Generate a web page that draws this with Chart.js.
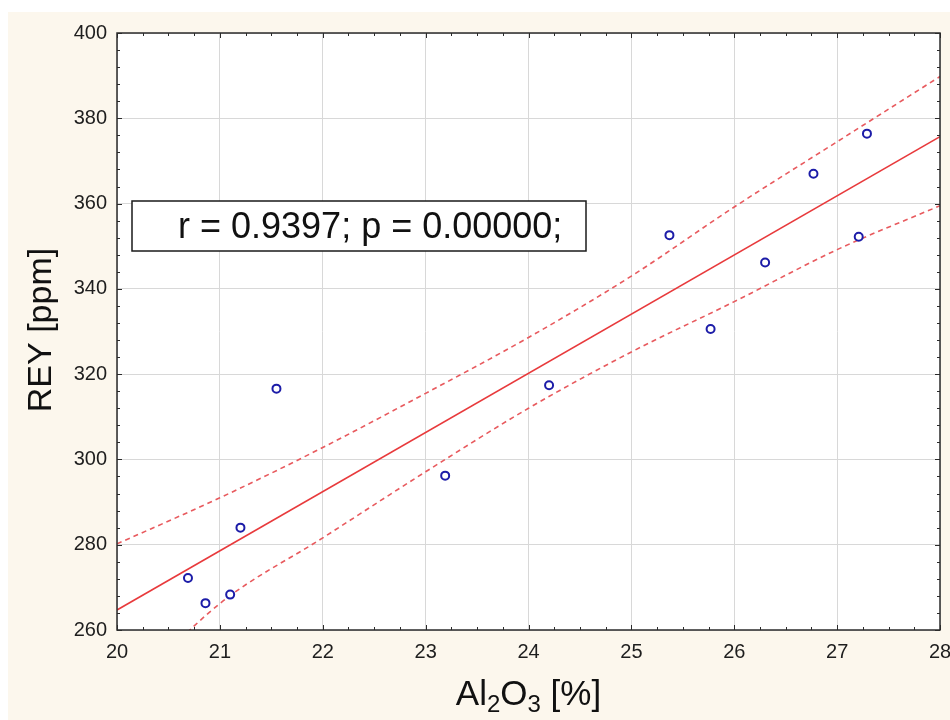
<!DOCTYPE html>
<html>
<head>
<meta charset="utf-8">
<script src="https://cdn.jsdelivr.net/npm/chart.js@4"></script>
<style>
  html, body { margin: 0; padding: 0; background: #ffffff; }
  canvas { display: block; }
</style>
</head>
<body>
<canvas id="scatterChart" width="950" height="720"></canvas>
<script>
// samples: Al2O3 [%] vs REY [ppm]
const alumina = [20.69, 20.86, 21.10, 21.20, 21.55, 23.19, 24.20, 25.37, 25.77, 26.30, 26.77, 27.21, 27.29];
const rey = [272.2, 266.3, 268.3, 284.0, 316.6, 296.2, 317.4, 352.6, 330.6, 346.2, 367.0, 352.2, 376.4];

// fitted line and 95% band
const fitX = [20, 28];
const fitY = [264.7, 375.7];
const bandX = [20, 21, 22, 23, 24, 25, 26, 27, 28];
const upperBand = [280.2, 291.0, 302.8, 315.5, 328.6, 343.0, 359.2, 374.5, 389.8];
const lowerBand = [243.0, 266.2, 281.6, 297.1, 312.0, 325.2, 337.0, 349.2, 359.5];

// axes
const xRange = [20, 28];
const xStep = 1;
const yRange = [260, 400];
const yStep = 20;

const statText = "r = 0.9397; p = 0.00000;";
const yTitle = "REY [ppm]";

const fontFamily = "'Liberation Sans', Arial, sans-serif";

let toPoints = (xs, ys) => xs.map((x, i) => ({ x: x, y: ys[i] }));

// background, frame, inner ticks, titles, stats box
const decorPlugin = {
  id: "decor",
  beforeDraw: function (chart) {
    let ctx = chart.ctx;
    let a = chart.chartArea;
    ctx.save();
    ctx.fillStyle = "#ffffff";
    ctx.fillRect(0, 0, chart.width, chart.height);
    ctx.fillStyle = "#fcf7ed";
    ctx.fillRect(8, 12, chart.width - 8, chart.height - 12);
    ctx.fillStyle = "#ffffff";
    ctx.fillRect(a.left, a.top, a.right - a.left, a.bottom - a.top);
    ctx.restore();
  },
  afterDraw: function (chart) {
    let ctx = chart.ctx;
    let a = chart.chartArea;
    let xs = chart.scales.x;
    let ys = chart.scales.y;
    ctx.save();

    //frame
    ctx.strokeStyle = "#2b2b2b";
    ctx.lineWidth = 1.5;
    ctx.strokeRect(a.left, a.top, a.right - a.left, a.bottom - a.top);

    //inward ticks on all sides
    ctx.lineWidth = 1;
    ctx.beginPath();
    for (let v = xRange[0]; v <= xRange[1] + 1e-9; v += 0.25) {
      let px = Math.round(xs.getPixelForValue(v)) + 0.5;
      let len = Math.abs(v - Math.round(v)) < 1e-6 ? 5 : 3;
      ctx.moveTo(px, a.bottom);
      ctx.lineTo(px, a.bottom - len);
      ctx.moveTo(px, a.top);
      ctx.lineTo(px, a.top + len);
    }
    for (let v = yRange[0]; v <= yRange[1] + 1e-9; v += 4) {
      let py = Math.round(ys.getPixelForValue(v)) + 0.5;
      let len = (v - yRange[0]) % yStep === 0 ? 5 : 3;
      ctx.moveTo(a.left, py);
      ctx.lineTo(a.left + len, py);
      ctx.moveTo(a.right, py);
      ctx.lineTo(a.right - len, py);
    }
    ctx.stroke();

    //stats box
    ctx.fillStyle = "#ffffff";
    ctx.fillRect(132, 201, 454, 50);
    ctx.strokeStyle = "#1a1a1a";
    ctx.lineWidth = 1.5;
    ctx.strokeRect(132, 201, 454, 50);
    ctx.fillStyle = "#111111";
    ctx.font = "36px " + fontFamily;
    ctx.textAlign = "left";
    ctx.textBaseline = "alphabetic";
    ctx.fillText(statText, 178, 238);

    //y title
    ctx.save();
    ctx.translate(51, 330);
    ctx.rotate(-Math.PI / 2);
    ctx.font = "34px " + fontFamily;
    ctx.textAlign = "center";
    ctx.fillStyle = "#111111";
    ctx.fillText(yTitle, 0, 0);
    ctx.restore();

    //x title with subscripts
    let parts = [["Al", false], ["2", true], ["O", false], ["3", true], [" [%]", false]];
    let bigFont = "35px " + fontFamily;
    let smallFont = "24px " + fontFamily;
    let total = 0;
    parts.forEach(p => {
      ctx.font = p[1] ? smallFont : bigFont;
      total += ctx.measureText(p[0]).width;
    });
    let cx = (a.left + a.right) / 2 - total / 2;
    ctx.textAlign = "left";
    ctx.fillStyle = "#111111";
    parts.forEach(p => {
      ctx.font = p[1] ? smallFont : bigFont;
      ctx.fillText(p[0], cx, p[1] ? 712 : 705);
      cx += ctx.measureText(p[0]).width;
    });

    ctx.restore();
  }
};

let chartCtx = document.getElementById("scatterChart").getContext("2d");
new Chart(chartCtx, {
  type: "scatter",
  data: {
    datasets: [
      {
        label: "samples",
        data: toPoints(alumina, rey),
        showLine: false,
        pointRadius: 4,
        pointBorderWidth: 2,
        pointBorderColor: "#1c1ca8",
        pointBackgroundColor: "#ffffff"
      },
      {
        label: "fit",
        data: toPoints(fitX, fitY),
        showLine: true,
        pointRadius: 0,
        borderColor: "#e83a3c",
        borderWidth: 1.6
      },
      {
        label: "upper",
        data: toPoints(bandX, upperBand),
        showLine: true,
        pointRadius: 0,
        borderColor: "#e85a5e",
        borderWidth: 1.6,
        borderDash: [5, 4],
        cubicInterpolationMode: "monotone"
      },
      {
        label: "lower",
        data: toPoints(bandX, lowerBand),
        showLine: true,
        pointRadius: 0,
        borderColor: "#e85a5e",
        borderWidth: 1.6,
        borderDash: [5, 4],
        cubicInterpolationMode: "monotone"
      }
    ]
  },
  options: {
    responsive: false,
    animation: false,
    events: [],
    layout: {
      padding: { left: 0, top: 33, right: 10, bottom: 0 }
    },
    plugins: {
      legend: { display: false },
      tooltip: { enabled: false }
    },
    scales: {
      x: {
        type: "linear",
        min: xRange[0],
        max: xRange[1],
        afterFit: function (scale) {
          scale.height = 90;
          scale.paddingLeft = 0;
          scale.paddingRight = 0;
        },
        ticks: {
          stepSize: xStep,
          padding: 10,
          color: "#1e1e1e",
          font: { family: fontFamily, size: 20 }
        },
        grid: { color: "#d8d8d8", lineWidth: 1, drawTicks: false },
        border: { display: false }
      },
      y: {
        type: "linear",
        min: yRange[0],
        max: yRange[1],
        afterFit: function (scale) {
          scale.width = 117;
          scale.paddingTop = 0;
          scale.paddingBottom = 0;
        },
        ticks: {
          stepSize: yStep,
          padding: 10,
          color: "#1e1e1e",
          font: { family: fontFamily, size: 20 }
        },
        grid: { color: "#d8d8d8", lineWidth: 1, drawTicks: false },
        border: { display: false }
      }
    }
  },
  plugins: [decorPlugin]
});
</script>
</body>
</html>
